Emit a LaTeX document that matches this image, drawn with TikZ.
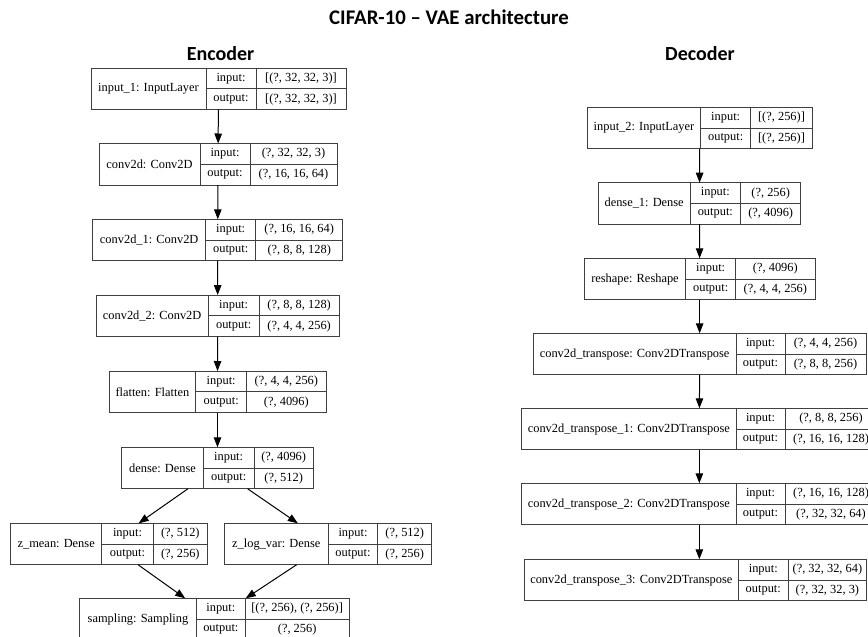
\documentclass[tikz,border=0pt]{standalone}
\usepackage{fontspec}
\setmainfont{Liberation Serif}
\newfontfamily\headfont{Carlito}
\usetikzlibrary{arrows.meta,positioning}

\tikzset{
  rec/.style={inner sep=0pt, outer sep=0pt, minimum height=41.5pt},
  cell/.style={draw=black!75, line width=1pt, inner sep=0pt, outer sep=0pt,
               minimum height=20.75pt, font=\fontsize{12.4}{14}\selectfont},
  namecell/.style={cell, minimum height=41.5pt},
  arr/.style={-{Triangle[length=10pt,width=7.5pt]}, line width=1pt},
  head/.style={font=\headfont\bfseries\fontsize{20}{24}\selectfont}
}

% one layer record: name, left, top, three column widths, label, input, output
\newcommand{\layer}[9]{%
  \node[rec, minimum width=#4pt+#5pt+#6pt, anchor=north west] (#1) at (#2,#3) {};
  \node[namecell, minimum width=#4pt, anchor=north west] (#1-n) at (#1.north west) {#7};
  \node[cell, minimum width=#5pt, anchor=north west] (#1-i) at (#1-n.north east) {input:};
  \node[cell, minimum width=#5pt, below=0pt of #1-i] (#1-o) {output:};
  \node[cell, minimum width=#6pt, right=0pt of #1-i] (#1-iv) {#8};
  \node[cell, minimum width=#6pt, right=0pt of #1-o] (#1-ov) {#9};
}

\begin{document}
\begin{tikzpicture}[x=1pt, y=-1pt]
  \useasboundingbox (0,0) rectangle (868,637);
  \clip (0,0) rectangle (868,637);
  \fill[white] (0,0) rectangle (868,637);

  \node[head, font=\headfont\bfseries\fontsize{20.8}{24}\selectfont] (title) at (449,17.5) {CIFAR-10 \textendash\ VAE architecture};
  \node[head] (enc) at (220.5,54) {Encoder};
  \node[head] (dec) at (700,54) {Decoder};

  % encoder
  \layer{in1}{91}{68}{115}{50}{90}{input\_1: InputLayer}{[(?, 32, 32, 3)]}{[(?, 32, 32, 3)]}
  \layer{c0}{99}{143.5}{101}{50}{87}{conv2d: Conv2D}{(?, 32, 32, 3)}{(?, 16, 16, 64)}
  \layer{c1}{92.7}{219.3}{113}{50}{87}{conv2d\_1: Conv2D}{(?, 16, 16, 64)}{(?, 8, 8, 128)}
  \layer{c2}{96}{295}{112.3}{50.7}{80.3}{conv2d\_2: Conv2D}{(?, 8, 8, 128)}{(?, 4, 4, 256)}
  \layer{fl}{109}{371}{86.7}{51}{79.3}{flatten: Flatten}{(?, 4, 4, 256)}{(?, 4096)}
  \layer{de}{121.7}{447.3}{81.6}{50.7}{59.3}{dense: Dense}{(?, 4096)}{(?, 512)}
  \layer{zm}{10.7}{523.3}{91}{51.6}{54}{z\_mean: Dense}{(?, 512)}{(?, 256)}
  \layer{zv}{224.3}{523.3}{104}{49.4}{54}{z\_log\_var: Dense}{(?, 512)}{(?, 256)}
  \layer{sa}{79.3}{598.3}{117.4}{48.3}{104.3}{sampling: Sampling}{[(?, 256), (?, 256)]}{(?, 256)}

  % decoder
  \layer{in2}{587.3}{107.3}{113.4}{50}{61.6}{input\_2: InputLayer}{[(?, 256)]}{[(?, 256)]}
  \layer{d1}{598.3}{182.7}{91.7}{50.7}{60}{dense\_1: Dense}{(?, 256)}{(?, 4096)}
  \layer{rs}{584.3}{258.3}{101.4}{50}{79.3}{reshape: Reshape}{(?, 4096)}{(?, 4, 4, 256)}
  \layer{t0}{533.3}{333.3}{202.7}{49}{81}{conv2d\_transpose: Conv2DTranspose}{(?, 4, 4, 256)}{(?, 8, 8, 256)}
  \layer{t1}{521.7}{408.3}{214.3}{49}{92}{conv2d\_transpose\_1: Conv2DTranspose}{(?, 8, 8, 256)}{(?, 16, 16, 128)}
  \layer{t2}{521.7}{483.3}{214.3}{49}{92}{conv2d\_transpose\_2: Conv2DTranspose}{(?, 16, 16, 128)}{(?, 32, 32, 64)}
  \layer{t3}{524.3}{559.3}{214}{50}{78.2}{conv2d\_transpose\_3: Conv2DTranspose}{(?, 32, 32, 64)}{(?, 32, 32, 3)}

  \draw[arr] (in1) -- (c0);
  \draw[arr] (c0) -- (c1);
  \draw[arr] (c1) -- (c2);
  \draw[arr] (c2) -- (fl);
  \draw[arr] (fl) -- (de);
  \draw[arr] (de) -- (zm);
  \draw[arr] (de) -- (zv);
  \draw[arr] (zm) -- (sa);
  \draw[arr] (zv) -- (sa);

  \draw[arr] (in2) -- (d1);
  \draw[arr] (d1) -- (rs);
  \draw[arr] (rs) -- (t0);
  \draw[arr] (t0) -- (t1);
  \draw[arr] (t1) -- (t2);
  \draw[arr] (t2) -- (t2 |- t3.north);
\end{tikzpicture}
\end{document}
